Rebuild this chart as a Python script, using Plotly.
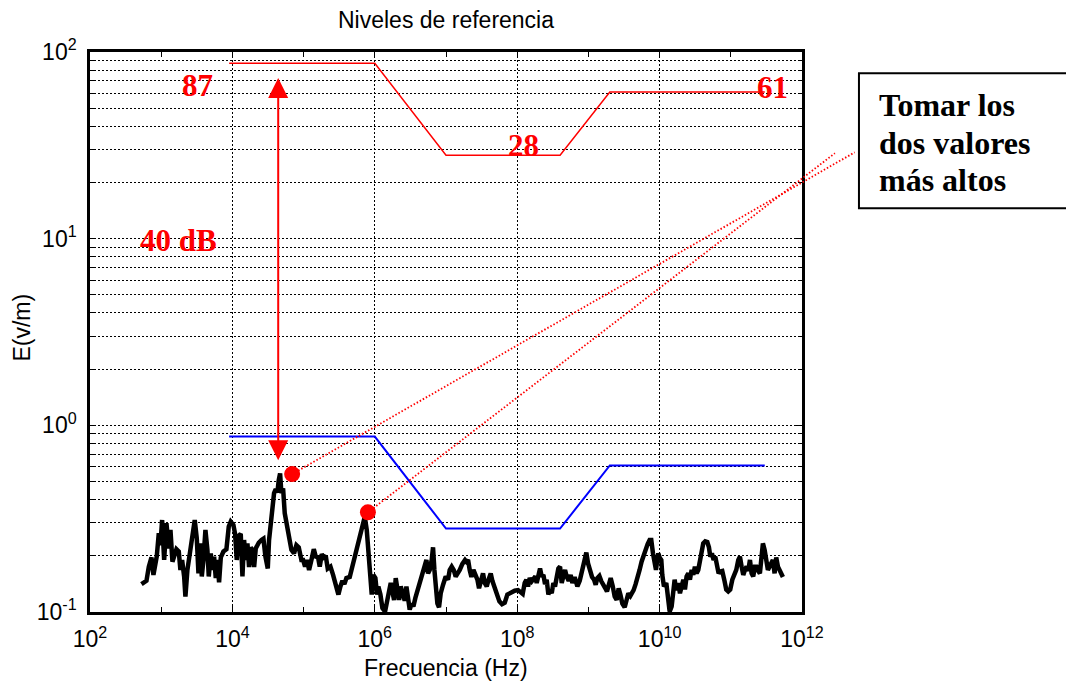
import math
import plotly.graph_objects as go

# ---------------- data ----------------
# Measured field strength E (V/m) versus frequency (Hz), split in bands
meas_f_band1 = [528, 621, 670, 730, 778, 867, 925, 975, 1030, 1100,
                1185, 1277, 1349, 1438, 1637, 1766, 1862, 1967, 2099, 2188,
                2334, 2545, 2748, 2958, 3160, 3337, 3519, 3715, 3920, 4180,
                4457, 4656, 4966, 5248, 5534, 5839, 6166, 6501, 6871, 7482,
                8241, 8892, 9484, 10330, 10910, 11510, 12160, 13100, 13840, 14590,
                15420, 16260, 17140, 18110, 19100, 20180, 21280, 23440, 25590, 27290,
                29110, 31410, 32730, 34590, 36480, 38460, 40640, 42850, 44770, 46770,
                48750, 51520, 54330, 58610, 62520, 67450, 73450, 79250, 85510, 93110]
meas_e_band1 = [0.141, 0.147, 0.175, 0.196, 0.158, 0.199, 0.264, 0.228, 0.311, 0.190,
                0.299, 0.219, 0.275, 0.186, 0.217, 0.211, 0.168, 0.190, 0.155, 0.121,
                0.168, 0.215, 0.258, 0.311, 0.248, 0.161, 0.233, 0.155, 0.190, 0.275,
                0.215, 0.155, 0.206, 0.168, 0.198, 0.152, 0.190, 0.144, 0.196, 0.211,
                0.217, 0.287, 0.305, 0.293, 0.262, 0.190, 0.255, 0.262, 0.155, 0.243,
                0.190, 0.233, 0.174, 0.222, 0.213, 0.174, 0.219, 0.235, 0.243, 0.247,
                0.198, 0.171, 0.243, 0.287, 0.352, 0.433, 0.455, 0.437, 0.509, 0.553,
                0.433, 0.460, 0.338, 0.281, 0.241, 0.215, 0.206, 0.228, 0.222, 0.190]

meas_f_band2 = [98400, 104900, 111900, 119400, 128800, 139000, 148200, 159600, 168600, 179900,
                191900, 204600, 218300, 238200, 259400, 283100, 308300, 328900, 350800, 374100,
                399000, 444600, 495400, 552100, 613800, 669900, 722800, 771000, 812800, 859000,
                905700, 955000, 1.019e6, 1.076e6, 1.122e6, 1.199e6, 1.279e6, 1.393e6, 1.486e6, 1.585e6,
                1.675e6, 1.766e6, 1.866e6, 1.968e6, 2.077e6, 2.193e6, 2.313e6, 2.466e6, 2.630e6, 2.780e6,
                2.931e6, 3.091e6, 3.304e6, 3.483e6, 3.715e6, 3.963e6, 4.276e6, 4.656e6, 5.023e6, 5.309e6,
                5.598e6, 5.902e6, 6.295e6, 6.577e6, 6.871e6, 7.178e6, 7.568e6, 7.980e6, 8.433e6, 9.099e6,
                9.908e6, 1.069e7, 1.127e7, 1.202e7, 1.282e7, 1.368e7, 1.462e7, 1.560e7, 1.698e7, 1.849e7]
meas_e_band2 = [0.190, 0.175, 0.190, 0.168, 0.190, 0.217, 0.198, 0.196, 0.175, 0.204,
                0.196, 0.200, 0.171, 0.175, 0.158, 0.140, 0.124, 0.137, 0.147, 0.141,
                0.152, 0.154, 0.182, 0.215, 0.253, 0.297, 0.324, 0.275, 0.215, 0.161,
                0.124, 0.158, 0.152, 0.124, 0.137, 0.124, 0.105, 0.1005, 0.111, 0.129,
                0.143, 0.126, 0.116, 0.152, 0.130, 0.116, 0.137, 0.126, 0.115, 0.137,
                0.116, 0.103, 0.111, 0.107, 0.119, 0.129, 0.140, 0.160, 0.175, 0.190,
                0.161, 0.168, 0.190, 0.222, 0.168, 0.131, 0.111, 0.106, 0.126, 0.140,
                0.155, 0.149, 0.168, 0.175, 0.168, 0.155, 0.161, 0.168, 0.181, 0.190]

meas_f_band3 = [1.932e7, 2.042e7, 2.153e7, 2.275e7, 2.427e7, 2.588e7, 2.761e7, 2.911e7, 3.105e7, 3.311e7,
                3.499e7, 3.733e7, 3.981e7, 4.246e7, 4.477e7, 4.831e7, 5.212e7, 5.623e7, 6.124e7, 6.683e7,
                7.278e7, 8.110e7, 9.226e7, 1.028e8, 1.120e8, 1.194e8, 1.274e8, 1.346e8, 1.419e8, 1.499e8,
                1.600e8, 1.706e8, 1.799e8, 1.879e8, 1.982e8, 2.094e8, 2.208e8, 2.333e8, 2.460e8, 2.594e8,
                2.742e8, 2.891e8, 3.055e8, 3.221e8, 3.396e8, 3.589e8, 3.784e8, 3.999e8, 4.217e8, 4.446e8,
                4.699e8, 4.955e8, 5.284e8, 5.636e8, 5.957e8, 6.412e8, 6.998e8, 7.551e8, 8.128e8, 8.770e8,
                9.354e8, 9.886e8, 1.054e9, 1.125e9, 1.199e9, 1.265e9, 1.337e9, 1.426e9, 1.521e9, 1.622e9,
                1.730e9, 1.824e9, 1.928e9, 2.056e9, 2.193e9, 2.339e9, 2.495e9, 2.661e9, 2.812e9, 2.999e9,
                3.236e9, 3.451e9, 3.639e9, 3.882e9]
meas_e_band3 = [0.186, 0.190, 0.168, 0.154, 0.168, 0.160, 0.149, 0.134, 0.144, 0.161,
                0.143, 0.137, 0.150, 0.161, 0.147, 0.134, 0.124, 0.114, 0.110, 0.112,
                0.124, 0.127, 0.130, 0.131, 0.126, 0.125, 0.143, 0.149, 0.137, 0.152,
                0.146, 0.150, 0.155, 0.143, 0.161, 0.171, 0.155, 0.158, 0.141, 0.149,
                0.124, 0.131, 0.126, 0.143, 0.137, 0.155, 0.171, 0.175, 0.143, 0.155,
                0.168, 0.155, 0.147, 0.158, 0.143, 0.154, 0.137, 0.147, 0.168, 0.182,
                0.208, 0.182, 0.165, 0.154, 0.149, 0.140, 0.152, 0.156, 0.146, 0.141,
                0.134, 0.129, 0.143, 0.152, 0.138, 0.121, 0.116, 0.134, 0.124, 0.111,
                0.106, 0.115, 0.126, 0.122]

meas_f_band4 = [4.315e9, 4.603e9, 4.909e9, 5.236e9, 5.585e9, 5.970e9,
                6.368e9, 6.792e9, 7.244e9, 7.638e9, 8.072e9, 8.511e9, 8.892e9, 9.268e9, 9.594e9, 1.000e10,
                1.057e10, 1.091e10, 1.151e10, 1.242e10, 1.309e10, 1.384e10, 1.476e10, 1.538e10, 1.626e10, 1.714e10,
                1.828e10, 1.932e10, 2.037e10, 2.153e10, 2.270e10, 2.393e10, 2.529e10, 2.667e10, 2.818e10, 2.972e10,
                3.133e10, 3.311e10, 3.491e10, 3.690e10, 3.890e10, 4.102e10, 4.375e10, 4.677e10, 4.932e10, 5.152e10,
                5.433e10, 5.728e10, 6.053e10, 6.383e10, 6.745e10, 7.112e10, 7.586e10, 8.091e10, 8.630e10, 9.204e10,
                9.817e10, 1.050e11, 1.119e11, 1.194e11, 1.274e11, 1.343e11, 1.419e11, 1.496e11, 1.578e11, 1.667e11,
                1.758e11, 1.858e11, 1.959e11, 2.065e11, 2.183e11, 2.301e11, 2.432e11, 2.564e11, 2.704e11, 2.825e11,
                2.985e11, 3.148e11, 3.319e11, 3.508e11, 3.698e11, 3.899e11, 4.121e11, 4.345e11, 4.592e11, 4.842e11,
                5.164e11, 5.395e11]
meas_e_band4 = [0.131, 0.141, 0.152, 0.168, 0.186, 0.202,
                0.215, 0.231, 0.243, 0.243, 0.206, 0.174, 0.168, 0.190, 0.206, 0.196,
                0.190, 0.158, 0.137, 0.143, 0.119, 0.1005, 0.107, 0.134, 0.149, 0.131,
                0.143, 0.126, 0.137, 0.149, 0.132, 0.155, 0.161, 0.149, 0.168, 0.158,
                0.175, 0.161, 0.168, 0.190, 0.217, 0.233, 0.239, 0.237, 0.222, 0.198,
                0.206, 0.190, 0.198, 0.174, 0.161, 0.165, 0.166, 0.149, 0.132, 0.129,
                0.132, 0.149, 0.160, 0.168, 0.190, 0.198, 0.175, 0.158, 0.168, 0.175,
                0.166, 0.190, 0.161, 0.155, 0.175, 0.175, 0.166, 0.161, 0.198, 0.233,
                0.215, 0.196, 0.168, 0.175, 0.184, 0.190, 0.161, 0.196, 0.175, 0.166,
                0.158, 0.154]

# Reference levels (V/m) and the same levels 40 dB lower
ref_f = [9e3, 1e6, 1e7, 4e8, 2e9, 3e11]
ref_e_high = [87, 87, 28, 28, 61, 61]
ref_e_low = [0.87, 0.87, 0.28, 0.28, 0.61, 0.61]

# Two highest measured values and where their pointer lines end
peak_f = [6.9e4, 8.0e5]
peak_e = [0.548, 0.342]
pointer_end_f = [5.5e12, 2.9e12]
pointer_end_e = [29.0, 28.7]

# 40 dB double arrow
arrow_f = 4.4e4
arrow_e = [74, 0.65]

# Level labels
level_labels = ["87", "28", "61"]
level_label_f = [3.25e3, 1.23e8, 3.9e11]
level_label_e = [66, 31.6, 64.7]

x_tick_vals = [1e2, 1e4, 1e6, 1e8, 1e10, 1e12]
x_tick_text = ["10<sup>2</sup>", "10<sup>4</sup>", "10<sup>6</sup>", "10<sup>8</sup>",
               "10<sup>10</sup>", "10<sup>12</sup>"]
x_minor_vals = [1e3, 1e5, 1e7, 1e9, 1e11]
y_tick_vals = [0.1, 1, 10, 100]
y_tick_text = ["10<sup>-1</sup>", "10<sup>0</sup>", "10<sup>1</sup>", "10<sup>2</sup>"]
y_minor_vals = [m * d for d in (0.1, 1, 10) for m in range(2, 10)]

X_LOG = [2, 12]
Y_LOG = [-1, 2]

meas_f = meas_f_band1 + meas_f_band2 + meas_f_band3 + meas_f_band4
meas_e = meas_e_band1 + meas_e_band2 + meas_e_band3 + meas_e_band4


def to_paper(f, e):
    return ((math.log10(f) - X_LOG[0]) / (X_LOG[1] - X_LOG[0]),
            (math.log10(e) - Y_LOG[0]) / (Y_LOG[1] - Y_LOG[0]))


SANS = "Liberation Sans, Arial, Helvetica, sans-serif"
SERIF = "Liberation Serif, Times New Roman, serif"
RED = "#ff0000"
BLUE = "#0000ff"

fig = go.Figure()
fig.add_trace(go.Scatter(x=meas_f, y=meas_e, mode="lines",
                         line=dict(color="black", width=4.5), hoverinfo="skip"))
fig.add_trace(go.Scatter(x=ref_f, y=ref_e_high, mode="lines",
                         line=dict(color=RED, width=1.5), hoverinfo="skip"))
fig.add_trace(go.Scatter(x=ref_f, y=ref_e_low, mode="lines",
                         line=dict(color=BLUE, width=2), hoverinfo="skip"))

# dotted pointer lines (extend beyond the axes, so drawn in paper coordinates)
for f0, e0, f1, e1 in zip(peak_f, peak_e, pointer_end_f, pointer_end_e):
    x0, y0 = to_paper(f0, e0)
    x1, y1 = to_paper(f1, e1)
    fig.add_shape(type="line", xref="paper", yref="paper", x0=x0, y0=y0, x1=x1, y1=y1,
                  line=dict(color=RED, width=1.8, dash="1.5px,2px"))

fig.add_trace(go.Scatter(x=peak_f, y=peak_e, mode="markers",
                         marker=dict(color=RED, size=16, line=dict(width=0)), hoverinfo="skip"))

# box with note
fig.add_shape(type="rect", xref="paper", yref="paper", x0=1.080, x1=1.376, y0=0.721, y1=0.962,
              line=dict(color="black", width=2), fillcolor="white")
for txt, yy in zip(["Tomar los", "dos valores", "más altos"], [0.906, 0.838, 0.771]):
    fig.add_annotation(text=txt, xref="paper", yref="paper", x=1.106, y=yy,
                       xanchor="left", yanchor="middle", showarrow=False,
                       font=dict(family=SERIF, size=32, color="black", weight="bold"))

# 40 dB arrow
fig.add_annotation(x=math.log10(arrow_f), y=math.log10(arrow_e[1]),
                   ax=math.log10(arrow_f), ay=math.log10(arrow_e[0]),
                   xref="x", yref="y", axref="x", ayref="y", text="",
                   showarrow=True, arrowhead=2, arrowside="end+start",
                   arrowsize=2, arrowwidth=2, arrowcolor=RED)
fig.add_annotation(x=math.log10(1.77e3), y=math.log10(9.8), xref="x", yref="y",
                   text="40 dB", showarrow=False,
                   font=dict(family=SERIF, size=31, color=RED, weight="bold"))
for lab, lf, le in zip(level_labels, level_label_f, level_label_e):
    fig.add_annotation(x=math.log10(lf), y=math.log10(le), xref="x", yref="y",
                       text=lab, showarrow=False,
                       font=dict(family=SERIF, size=31, color=RED, weight="bold"))

# axis titles
fig.add_annotation(text="Frecuencia (Hz)", xref="paper", yref="paper", x=0.5, y=-0.100,
                   xanchor="center", yanchor="middle", showarrow=False,
                   font=dict(family=SANS, size=23, color="black"))
fig.add_annotation(text="E(v/m)", xref="paper", yref="paper", x=-0.0955, y=0.508,
                   xanchor="center", yanchor="middle", textangle=-90, showarrow=False,
                   font=dict(family=SANS, size=23, color="black"))

axis_common = dict(type="log", ticks="inside", ticklen=6, tickwidth=1, tickcolor="black",
                   showline=True, linecolor="black", linewidth=2.5, mirror="allticks",
                   showgrid=True, gridcolor="black", gridwidth=1, griddash="2px,2px",
                   zeroline=False, tickmode="array",
                   tickfont=dict(family=SANS, size=23, color="black"))

# the page adds an 8 px body margin, so the figure is 8 px smaller and the
# plot area is shifted accordingly
fig.update_layout(
    width=1066, height=674,
    margin=dict(l=82, r=272, t=44, b=70),
    paper_bgcolor="white", plot_bgcolor="white",
    showlegend=False,
    title=dict(text="Niveles de referencia", x=0.5, xref="paper", xanchor="center",
               y=1 - 12 / 674, yref="container", yanchor="middle",
               font=dict(family=SANS, size=23, color="black")),
    xaxis=dict(axis_common, range=X_LOG, tickvals=x_tick_vals, ticktext=x_tick_text,
               ticklabelstandoff=5,
               minor=dict(tickmode="array", tickvals=x_minor_vals, ticks="inside",
                          ticklen=5, tickcolor="black", showgrid=False)),
    yaxis=dict(axis_common, range=Y_LOG, tickvals=y_tick_vals, ticktext=y_tick_text,
               ticklabelstandoff=6,
               minor=dict(tickmode="array", tickvals=y_minor_vals, ticks="inside",
                          ticklen=4, tickcolor="black", showgrid=True, gridcolor="black",
                          gridwidth=1, griddash="2px,2px")),
)

fig.write_html("out.html")
